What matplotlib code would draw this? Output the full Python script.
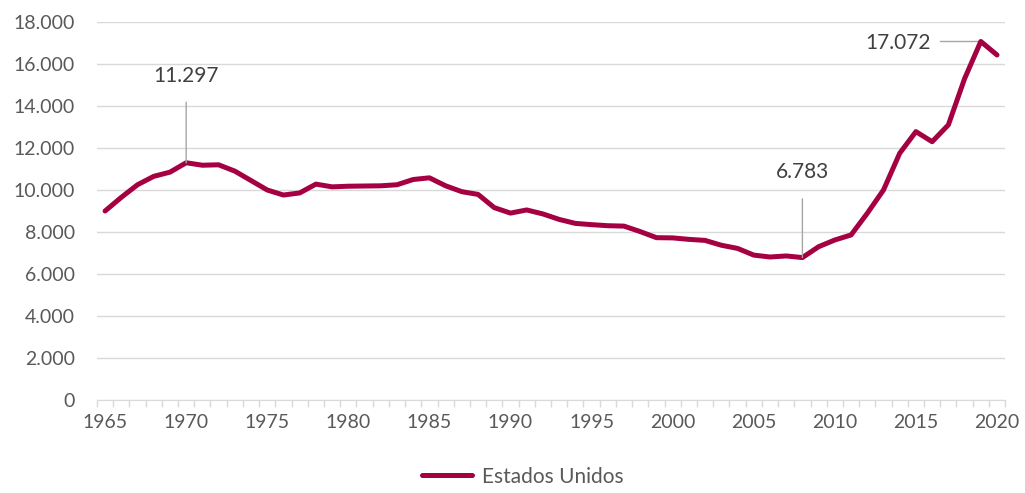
import matplotlib
matplotlib.use('Agg')
import matplotlib.pyplot as plt
from matplotlib.ticker import FuncFormatter, MultipleLocator

plt.rcParams['font.family'] = ['Lato', 'DejaVu Sans']

years = list(range(1965, 2021))
values = [9000, 9650, 10250, 10650, 10850, 11297, 11180, 11200, 10900, 10450,
          10000, 9760, 9860, 10280, 10150, 10180, 10190, 10200, 10250, 10500,
          10580, 10200, 9920, 9790, 9160, 8900, 9050, 8860, 8600, 8410,
          8350, 8300, 8280, 8020, 7730, 7720, 7650, 7600, 7370, 7220,
          6900, 6810, 6860, 6783, 7300, 7620, 7860, 8890, 10000, 11750,
          12780, 12300, 13100, 15300, 17072, 16430]
series_name = 'Estados Unidos'
tick_years = list(range(1965, 2021, 5))

red = '#A50042'
grey_txt = '#595959'
grid_col = '#D9D9D9'

fig = plt.figure(figsize=(10.25, 4.93), dpi=100)
ax = fig.add_axes([0.0946, 0.1886, 0.886, 0.7668])

ax.plot(years, values, color=red, lw=3.6, solid_joinstyle='round',
        solid_capstyle='round', label=series_name, zorder=3)

ax.set_xlim(1964.5, 2020.5)
ax.set_ylim(0, 18000)
ax.yaxis.set_major_locator(MultipleLocator(2000))
ax.yaxis.set_major_formatter(FuncFormatter(lambda v, p: f'{int(v):,}'.replace(',', '.')))
ax.grid(axis='y', color=grid_col, lw=1)
ax.set_axisbelow(True)

ax.set_xticks(tick_years)
ax.set_xticks([y + 0.5 for y in range(1964, 2021)], minor=True)
ax.tick_params(axis='x', which='major', length=0, pad=10, labelsize=14, labelcolor=grey_txt)
ax.tick_params(axis='x', which='minor', length=5, color=grid_col, width=1)
ax.tick_params(axis='y', length=0, pad=16, labelsize=14, labelcolor=grey_txt)

for s in ['top', 'right', 'left']:
    ax.spines[s].set_visible(False)
ax.spines['bottom'].set_color(grid_col)

# annotations
ann_col = '#A6A6A6'
txt_col = '#404040'
ax.annotate('11.297', xy=(1970, 11297), xytext=(1970, 15450), ha='center', va='center',
            fontsize=15, color=txt_col,
            arrowprops=dict(arrowstyle='-', color=ann_col, lw=1, shrinkA=10, shrinkB=0))
ax.annotate('6.783', xy=(2008, 6783), xytext=(2008, 10850), ha='center', va='center',
            fontsize=15, color=txt_col,
            arrowprops=dict(arrowstyle='-', color=ann_col, lw=1, shrinkA=10, shrinkB=0))
ax.annotate('17.072', xy=(2019, 17072), xytext=(2015.9, 17000), ha='right', va='center',
            fontsize=15, color=txt_col)
ax.plot([2016.5, 2018.9], [17072, 17072], color=ann_col, lw=1, zorder=2)

leg = fig.legend(loc='lower center', bbox_to_anchor=(0.51, -0.025), frameon=False,
                 fontsize=15, handlelength=2.4, handletextpad=0.5)
for t in leg.get_texts():
    t.set_color(grey_txt)

fig.savefig('out.png', dpi=100)
